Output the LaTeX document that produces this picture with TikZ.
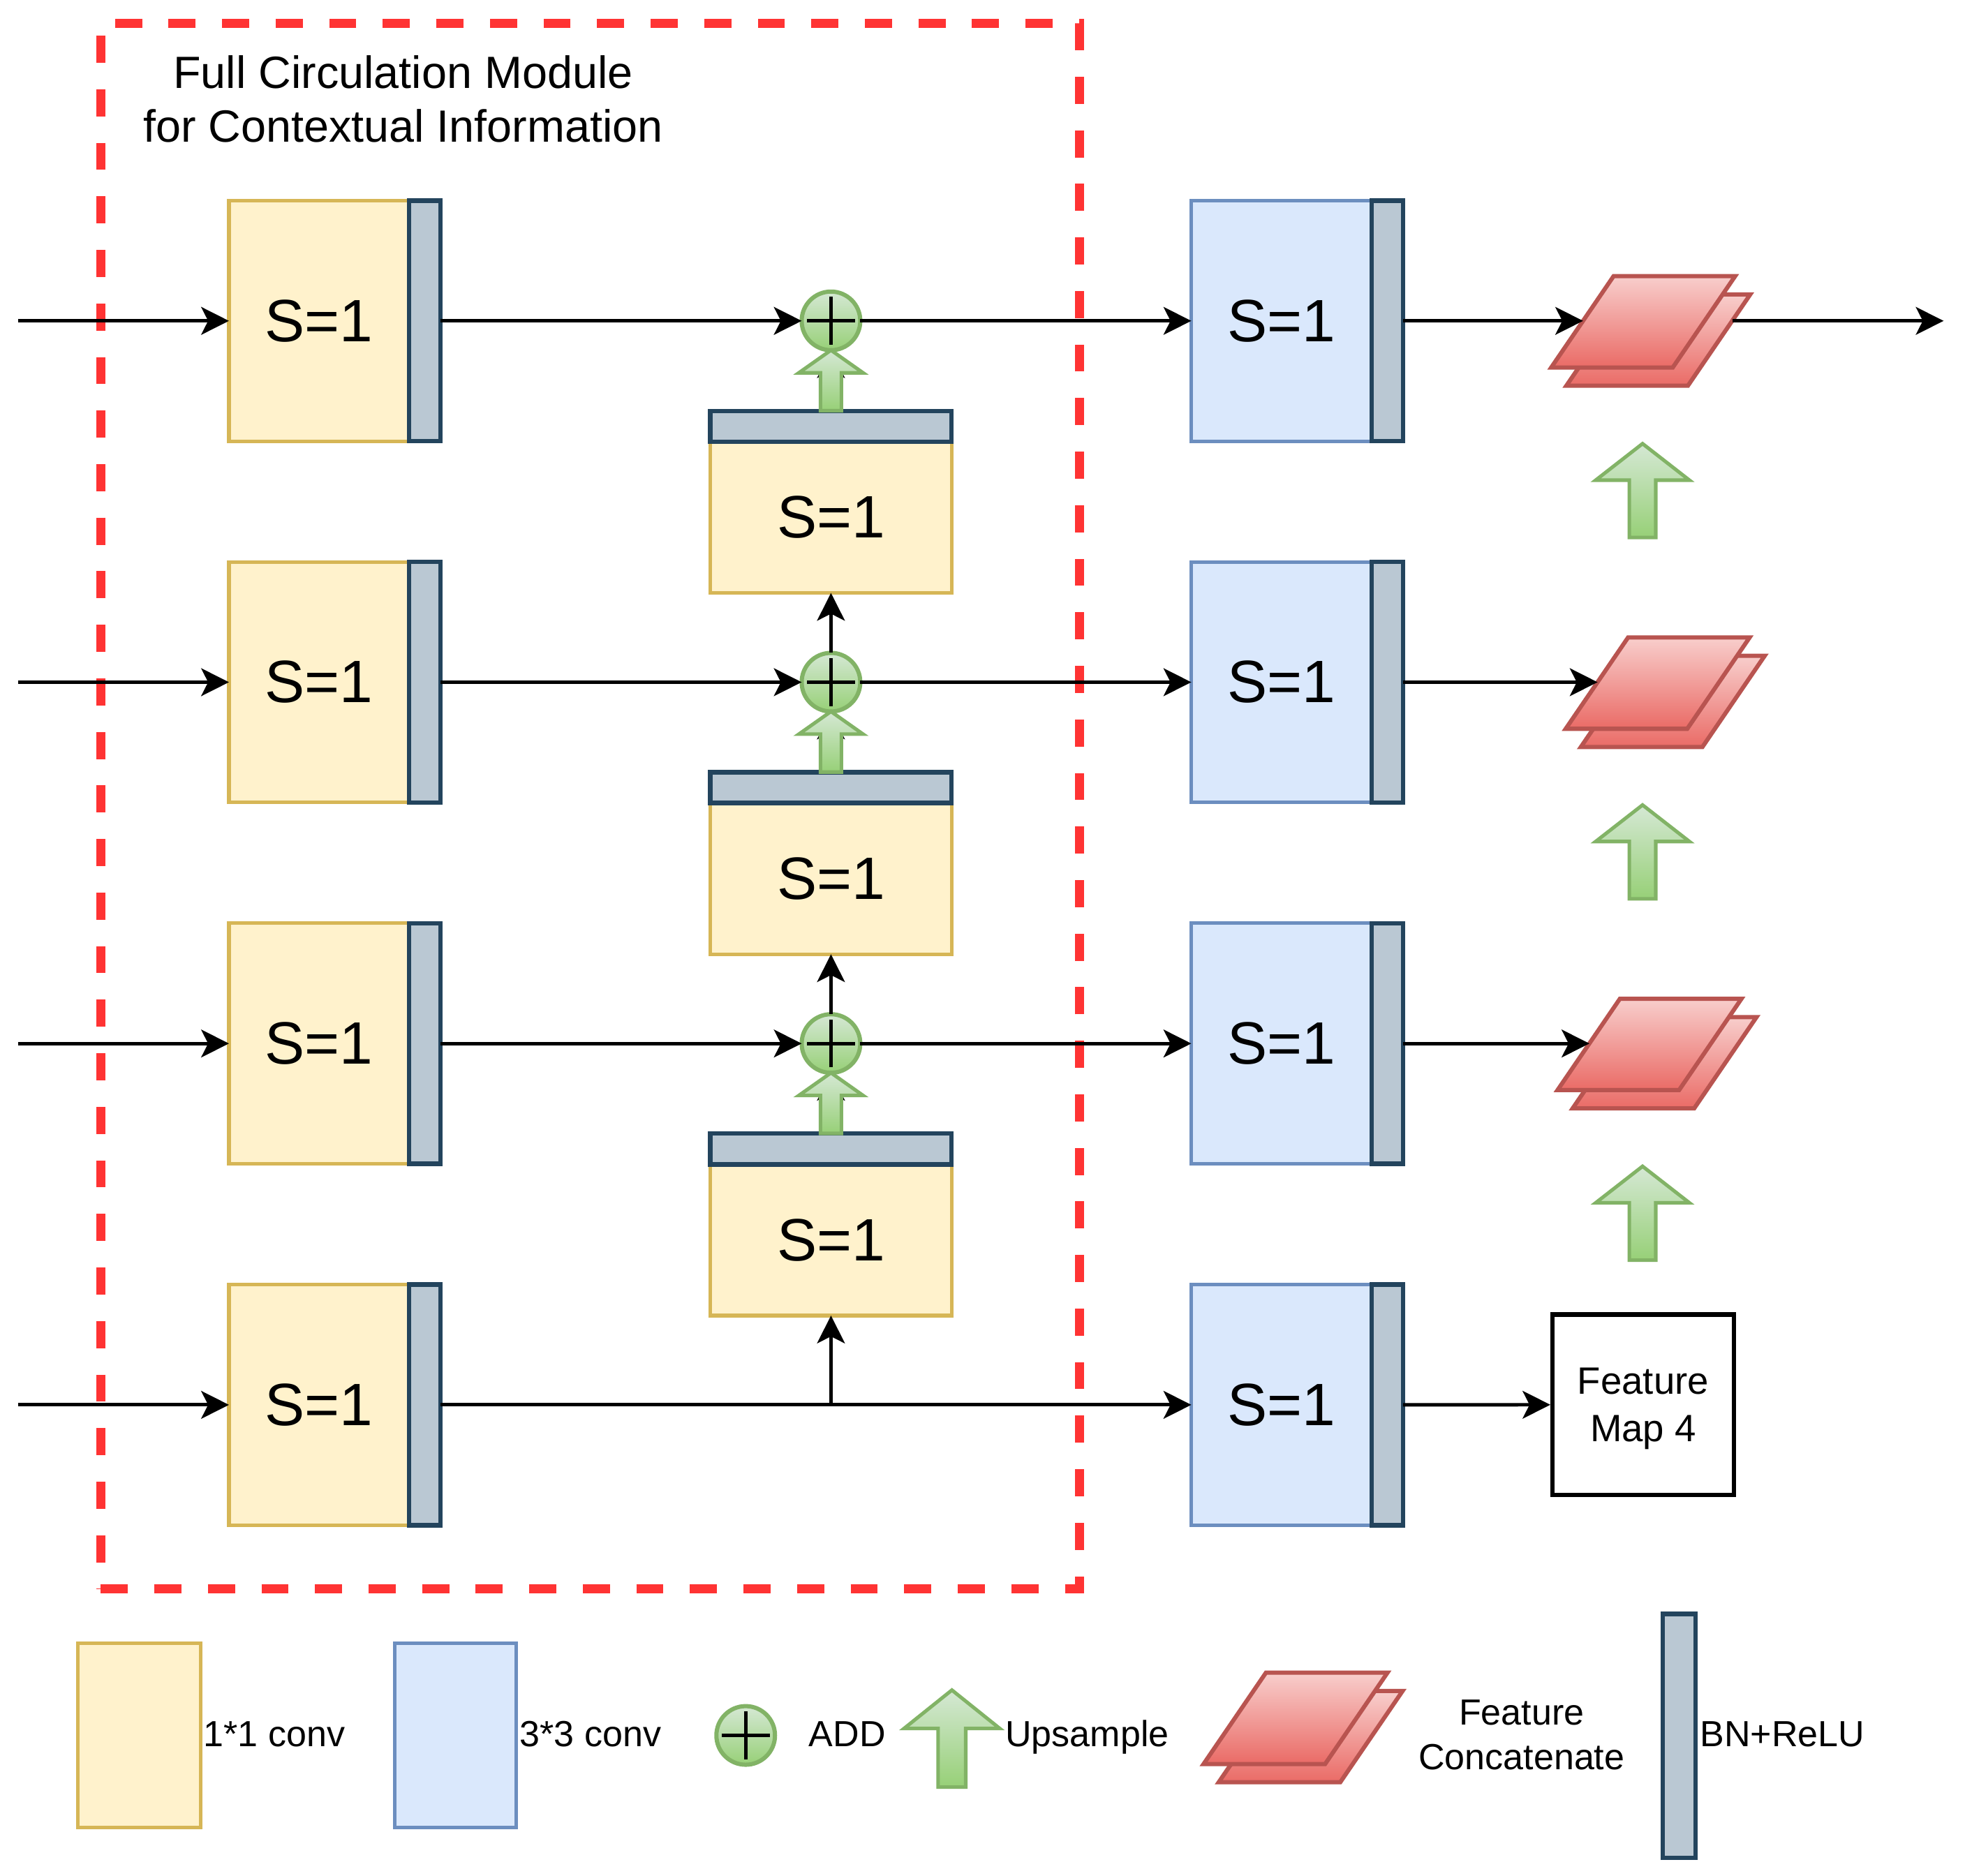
\documentclass[tikz,border=0pt]{standalone}
\usepackage{fontspec}
\setmainfont{Liberation Sans}
\usetikzlibrary{arrows.meta}

\definecolor{yfill}{HTML}{FFF2CC}
\definecolor{ydraw}{HTML}{D6B656}
\definecolor{bfill}{HTML}{DAE8FC}
\definecolor{bdraw}{HTML}{6C8EBF}
\definecolor{bnfill}{HTML}{BAC8D3}
\definecolor{bndraw}{HTML}{23445D}
\definecolor{gtop}{HTML}{D5E8D4}
\definecolor{gbot}{HTML}{97D077}
\definecolor{gdraw}{HTML}{82B366}
\definecolor{rtop}{HTML}{F8CECC}
\definecolor{rbot}{HTML}{EA6B66}
\definecolor{rdraw}{HTML}{B85450}
\definecolor{framered}{HTML}{FF3333}

\begin{document}
\begin{tikzpicture}[x=0.01cm,y=-0.01cm,
    flow/.style={-{Stealth[length=2.2mm,width=2.2mm,inset=0.55mm]},line width=0.77pt},
    yellowbox/.style={draw=ydraw,fill=yfill,line width=0.8pt,minimum width=1.43cm,minimum height=1.91cm,inner sep=0pt,outer sep=0pt,font=\fontsize{13.5}{16}\selectfont},
    bluebox/.style={yellowbox,draw=bdraw,fill=bfill},
    midbox/.style={yellowbox,minimum width=1.915cm,minimum height=1.2cm},
    bnbar/.style={draw=bndraw,fill=bnfill,line width=1pt,minimum width=0.25cm,minimum height=1.91cm,inner sep=0pt,outer sep=0pt},
    addop/.style={circle,draw=gdraw,line width=0.95pt,top color=gtop,bottom color=gbot,minimum size=0.465cm,inner sep=0pt,outer sep=0pt,
        path picture={\draw[black,line width=0.8pt] ([xshift=-1.9mm]path picture bounding box.center) -- ([xshift=1.9mm]path picture bounding box.center)
            ([yshift=-1.9mm]path picture bounding box.center) -- ([yshift=1.9mm]path picture bounding box.center);}},
    upsample/.style={draw=gdraw,line width=0.8pt,top color=gtop,bottom color=gbot},
    featcat/.style={draw=rdraw,line width=0.95pt,top color=rtop,bottom color=rbot},
    keytext/.style={anchor=base west,inner sep=0pt,font=\fontsize{8.2}{9.8}\selectfont}
]
\useasboundingbox (0,0) rectangle (1560,1489.6);

\node[draw=framered,line width=2.1pt,dash pattern=on 2.15mm off 2.1mm,minimum width=7.765cm,minimum height=12.423cm,inner sep=0pt] (module) at (468.45,640.15) {};
\node[align=center,inner sep=0pt,font=\fontsize{10.2}{12.2}\selectfont,text depth=0pt] (title) at (320,78.5) {Full Circulation Module\\for Contextual Information};

\foreach \k/\yy in {1/254.8,2/541.7,3/828.6,4/1115.5}{
    \coordinate (src\k) at (14.5,\yy);
    \node[yellowbox] (conv\k) at (253.3,\yy) {S=1};
    \node[bnbar,anchor=west] (bn\k) at (conv\k.east) {};
    \node[bluebox] (dw\k) at (1017.3,\yy) {S=1};
    \node[bnbar,anchor=west] (dwbn\k) at (dw\k.east) {};
    \draw[flow] (src\k) -- (conv\k);
}

\foreach \k/\yy in {1/254.8,2/541.7,3/828.6}{
    \node[addop] (add\k) at (659.7,\yy) {};
    \node[midbox] (mid\k) at (659.7,\yy+156) {S=1};
    \node[bnbar,minimum width=1.915cm,minimum height=0.244cm,anchor=south] (midbn\k) at (mid\k.north) {};
    \draw[flow] (bn\k) -- (add\k);
    \draw[flow] (add\k) -- (dw\k);
    \draw[flow] (midbn\k) -- (add\k);
}
\coordinate (split) at (mid3.south |- bn4.east);
\draw[flow] (bn4) -- (dw4);
\draw[flow] (split) -- (mid3);
\draw[flow] (add2) -- (mid1);
\draw[flow] (add3) -- (mid2);

\foreach \k in {1,2,3}
    \path[upsample] (add\k.south) -- ++(25.5,18) -- ++(-17.2,0) -- ++(0,30.1) -- ++(-16.6,0) -- ++(0,-30.1) -- ++(-17.2,0) -- cycle;
\foreach \yy in {254.8,541.7,828.6}
    \path[upsample] (1304,\yy+97.5) -- ++(37.2,29) -- ++(-26.7,0) -- ++(0,45.5) -- ++(-21,0) -- ++(0,-45.5) -- ++(-26.7,0) -- cycle;

\foreach \k/\xx/\yy in {1/1281/254.8,2/1292.5/541.7,3/1286/828.6}{
    \path[featcat] (\xx+12,\yy-21) -- ++(96.5,0) -- ++(-49.5,72.5) -- ++(-96.5,0) -- cycle;
    \path[featcat] (\xx,\yy-35.5) -- ++(96.5,0) -- ++(-49.5,72.5) -- ++(-96.5,0) -- cycle;
    \coordinate (cat\k) at (\xx-24.2,\yy);
    \draw[flow] (dwbn\k) -- (cat\k);
}
\coordinate (catout) at (1375.2,254.8);
\coordinate (sink) at (1543,254.8);
\draw[flow] (catout) -- (sink);

\node[draw,line width=1pt,minimum width=1.438cm,minimum height=1.43cm,inner sep=0pt,align=center,font=\fontsize{8.6}{10.7}\selectfont,text depth=0pt] (fmap) at (1304.5,1115.4) {Feature\\Map 4};
\draw[flow] (dwbn4) -- (fmap);

\node[yellowbox,minimum width=0.975cm,minimum height=1.46cm] (key1) at (110.5,1378) {};
\node[keytext] (key1txt) at (161,1387) {1*1 conv};
\node[bluebox,minimum width=0.965cm,minimum height=1.46cm] (key2) at (361.7,1378) {};
\node[keytext] (key2txt) at (412,1387) {3*3 conv};
\node[addop] (key3) at (592,1378) {};
\node[keytext] (key3txt) at (641.5,1387) {ADD};
\path[upsample] (755.7,1342) -- ++(38,30.5) -- ++(-27,0) -- ++(0,46.5) -- ++(-22,0) -- ++(0,-46.5) -- ++(-27,0) -- cycle;
\node[keytext] (key4txt) at (797.5,1387) {Upsample};
\path[featcat] (1017,1342.7) -- ++(96.5,0) -- ++(-49.5,72.5) -- ++(-96.5,0) -- cycle;
\path[featcat] (1005,1328.2) -- ++(96.5,0) -- ++(-49.5,72.5) -- ++(-96.5,0) -- cycle;
\node[align=center,inner sep=0pt,font=\fontsize{8.2}{10.2}\selectfont,text depth=0pt] (key5txt) at (1208,1377.5) {Feature\\Concatenate};
\node[bnbar,minimum width=0.26cm,minimum height=1.934cm] (key6) at (1333.2,1378.3) {};
\node[keytext] (key6txt) at (1349,1387) {BN+ReLU};
\end{tikzpicture}
\end{document}
